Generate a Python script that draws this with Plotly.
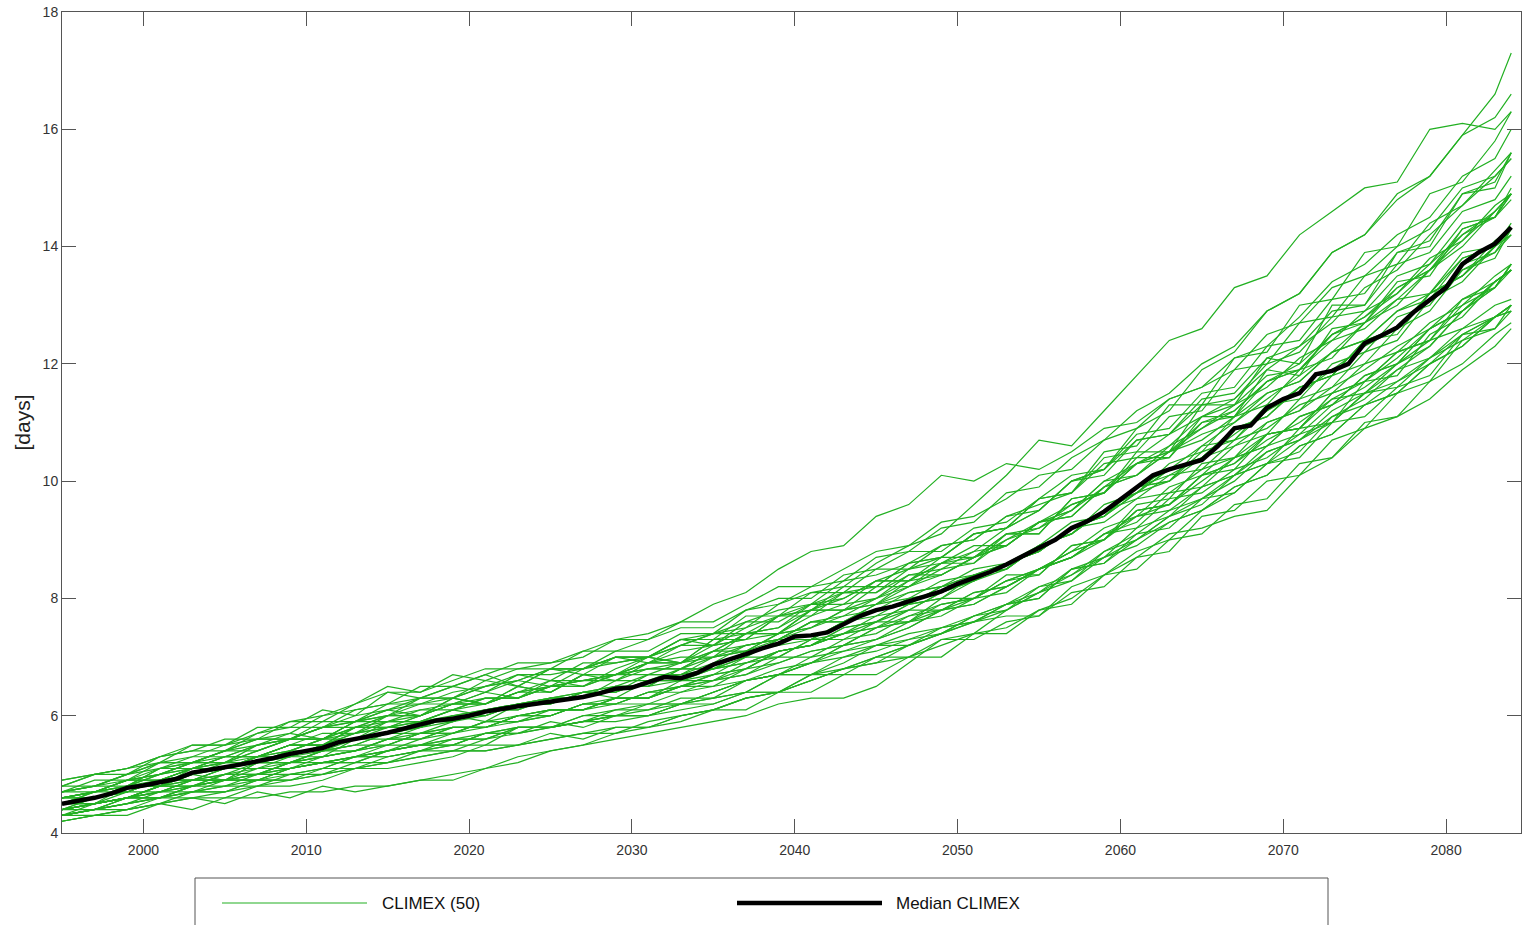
import plotly.graph_objects as go

# ---------------- data ----------------
median_years = list(range(1995, 2085))
median_climex = [
    4.50, 4.55, 4.60, 4.67, 4.77, 4.81, 4.87, 4.92, 5.03, 5.07,
    5.12, 5.17, 5.22, 5.28, 5.35, 5.40, 5.45, 5.55, 5.60, 5.65,
    5.71, 5.78, 5.85, 5.92, 5.95, 6.00, 6.07, 6.12, 6.16, 6.20,
    6.24, 6.27, 6.32, 6.38, 6.46, 6.48, 6.57, 6.66, 6.64, 6.73,
    6.87, 6.95, 7.05, 7.15, 7.23, 7.35, 7.37, 7.42, 7.57, 7.70,
    7.80, 7.86, 7.95, 8.03, 8.12, 8.25, 8.35, 8.45, 8.58, 8.72,
    8.86, 9.00, 9.20, 9.32, 9.48, 9.68, 9.90, 10.10, 10.20, 10.28,
    10.36, 10.60, 10.90, 10.95, 11.25, 11.40, 11.50, 11.82, 11.88, 12.00,
    12.35, 12.48, 12.62, 12.88, 13.10, 13.30, 13.70, 13.90, 14.05, 14.33,
]

member_years = list(range(1995, 2084, 2)) + [2084]

m01 = [4.6,4.7,4.9,4.9,5.1,5.3,5.3,5.4,5.6,5.8, 5.9,5.9,6.1,6.3,6.3,6.5,6.5,6.7,6.8,6.8, 7.1,7.4,7.5,7.8,8.1,8.1,8.5,8.6,8.8,9.2, 9.5,10.0,10.2,10.9,11.2,11.9,12.2,12.9,13.2,13.9, 14.2,14.8,15.2,15.9,16.6,17.3]
m02 = [4.7,4.8,4.8,5.1,5.2,5.2,5.5,5.6,5.6,5.9, 6.0,6.2,6.2,6.4,6.6,6.5,6.8,6.9,7.0,7.2, 7.4,7.5,7.9,8.1,8.2,8.6,8.9,9.1,9.6,10.1, 10.7,10.6,11.2,11.8,12.4,12.6,13.3,13.5,14.2,14.6, 15.0,15.1,16.0,16.1,16.0,16.3]
m03 = [4.9,5.0,5.1,5.3,5.4,5.6,5.6,5.9,6.0,6.2, 6.5,6.4,6.7,6.6,6.8,6.8,7.1,7.3,7.4,7.6, 7.9,8.1,8.5,8.8,8.9,9.4,9.6,10.1,10.0,10.3, 10.2,10.5,10.9,11.0,11.4,11.6,12.1,12.3,12.8,13.4, 13.7,14.2,14.5,15.2,15.5,16.0]
m04 = [4.3,4.4,4.4,4.5,4.6,4.5,4.7,4.6,4.8,4.7, 4.8,4.9,4.9,5.1,5.2,5.4,5.5,5.6,5.7,5.8, 5.9,6.0,6.2,6.3,6.3,6.5,6.9,7.3,7.4,7.8, 8.1,8.5,8.7,9.2,9.4,9.9,10.1,10.6,10.8,11.3, 11.6,12.0,12.4,12.6,13.0,13.1]
m05 = [4.4,4.5,4.6,4.6,4.8,4.9,4.9,5.1,5.2,5.2, 5.4,5.5,5.5,5.7,5.8,5.8,6.0,6.1,6.2,6.2, 6.4,6.6,6.7,6.9,7.0,7.2,7.3,7.5,7.6,7.7, 7.7,8.2,8.4,8.7,9.1,9.2,9.4,9.5,10.1,10.4, 10.9,11.1,11.4,11.9,12.3,12.6]
m06 = [4.2,4.3,4.3,4.5,4.4,4.6,4.6,4.7,4.7,4.8, 4.8,4.9,5.0,5.1,5.3,5.4,5.5,5.7,5.8,6.0, 6.1,6.3,6.4,6.6,6.8,7.0,7.2,7.4,7.7,7.9, 8.2,8.4,8.8,9.1,9.5,9.7,10.1,10.3,10.7,11.0, 11.5,11.7,12.1,12.5,12.8,12.9]
m07 = [4.8,5.0,5.1,5.2,5.5,5.5,5.7,5.9,5.9,6.2, 6.4,6.4,6.6,6.8,6.8,6.9, 7.1,7.1,7.3,7.5,7.5,7.8,8.0,8.0,8.4,8.5, 8.8,8.8,9.2,9.3,9.7, 9.8,10.4,10.5,11.1,11.2,11.9,12.0,12.7,12.8,13.5,13.7,14.4,14.7,15.3,15.6]
m08 = [4.7,4.8,5.0,5.2,5.3,5.5,5.6,5.7,6.0,6.1, 6.2,6.5,6.5,6.7,6.9,6.9, 7.0,7.3,7.3,7.6,7.6,7.9,8.2,8.2,8.5,8.8, 8.9,9.3,9.4,9.7,10.1, 10.2,10.7,10.9,11.4,11.6,11.9,12.5,12.7,13.3,13.5,14.0,14.3,15.0,15.2,15.5]
m09 = [4.8,5.0,5.0,5.3,5.4,5.4,5.7,5.8,5.8,6.1, 6.2,6.3,6.5,6.4,6.7,6.7, 6.8,7.0,6.9,7.2,7.4,7.4,7.7,7.9,7.9,8.3, 8.3,8.6,8.9,8.9,9.3, 9.5,9.9,10.1,10.5,10.8,11.0,11.5,11.7,12.2,12.4,12.9,13.1,13.8,14.0,14.3]
m10 = [4.6,4.7,4.9,5.0,5.2,5.3,5.5,5.6,5.8,5.9, 6.1,6.2,6.4,6.5,6.6,6.8, 6.8,7.1,7.1,7.4,7.4,7.8,7.9,8.2,8.3,8.7, 8.8,9.2,9.3,9.8,9.9, 10.4,10.7,11.2,11.5,12.0,12.3,12.9,13.2,13.9,14.2,14.9,15.2,15.9,16.2,16.6]
m11 = [4.7,4.8,4.9,5.2,5.2,5.4,5.6,5.6,5.9,5.9, 6.2,6.2,6.3,6.6,6.5,6.8, 6.8,7.0,7.0,7.3,7.3,7.7,7.7,8.1,8.1,8.5, 8.5,8.9,9.0,9.4,9.5, 10.0,10.1,10.7,10.8,11.3,11.4,12.0,12.2,12.8,12.9,13.5,13.7,14.4,14.5,14.9]
m12 = [4.9,5.0,5.1,5.3,5.5,5.5,5.8,5.8,6.1,6.0, 6.4,6.3,6.5,6.7,6.5,6.8, 6.7,7.0,7.0,7.3,7.2,7.6,7.6,7.9,8.0,8.3, 8.3,8.7,8.7,9.1,9.1, 9.7,9.8,10.4,10.4,11.1,11.1,11.9,11.8,12.6,12.7,13.4,13.5,14.3,14.5,14.9]
m13 = [4.6,4.7,4.8,5.0,5.2,5.2,5.4,5.6,5.6,5.9, 5.9,6.0,6.3,6.2,6.5,6.4, 6.7,6.7,7.0,6.9,7.3,7.3,7.7,7.8,8.2,8.2, 8.6,8.7,9.1,9.2,9.7, 9.8,10.5,10.6,11.3,11.3,12.1,12.2,13.0,13.1,13.9,14.0,14.9,15.1,15.8,16.3]
m14 = [4.7,4.9,4.9,5.1,5.3,5.3,5.5,5.7,5.6,5.9, 6.1,6.0,6.3,6.2,6.5,6.4, 6.7,6.6,6.9,7.0,7.0,7.4,7.4,7.8,7.8,8.2, 8.2,8.6,8.6,9.1,9.1, 9.7,9.8,10.5,10.5,11.3,11.3,12.1,12.0,13.0,13.0,13.9,14.0,14.9,15.0,15.6]
m15 = [4.5,4.7,4.9,5.0,5.2,5.4,5.4,5.6,5.8,5.9, 6.0,6.3,6.3,6.5,6.6,6.8, 6.8,7.0,7.0,7.3,7.4,7.6,7.8,7.9,8.3,8.4, 8.6,8.9,9.0,9.4,9.6, 9.8,10.3,10.4,10.8,11.1,11.3,11.8,11.9,12.4,12.6,13.1,13.2,13.9,14.0,14.3]
m16 = [4.4,4.6,4.8,4.8,5.1,5.1,5.3,5.5,5.5,5.8, 5.8,6.0,6.2,6.2,6.4,6.6, 6.5,6.8,7.0,6.9,7.3,7.4,7.5,7.9,8.1,8.2, 8.6,8.7,9.1,9.2,9.7, 10.1,10.2,10.8,10.9,11.5,11.6,12.3,12.4,13.1,13.2,13.9,14.1,14.9,15.1,15.6]
m17 = [4.7,4.7,4.8,5.1,5.1,5.2,5.4,5.6,5.6,5.8, 6.0,6.0,6.2,6.3,6.3,6.6, 6.6,6.7,6.9,6.9,7.2,7.3,7.4,7.8,7.8,8.0, 8.4,8.4,8.7,9.1,9.2, 9.5,10.0,10.1,10.6,10.9,11.2,11.7,11.9,12.5,12.8,13.2,13.8,14.1,14.7,14.9]
m18 = [4.8,4.8,5.0,5.2,5.2,5.4,5.6,5.6,5.8,6.0, 6.1,6.3,6.3,6.5,6.7,6.6, 6.9,6.9,7.0,7.2,7.2,7.5,7.7,7.7,8.1,8.1, 8.4,8.5,8.8,8.9,9.3, 9.4,9.9,10.3,10.4,11.0,11.1,11.7,11.9,12.5,12.7,13.3,13.6,14.2,14.5,14.8]
m19 = [4.6,4.7,4.9,4.9,5.1,5.3,5.3,5.5,5.5,5.7, 5.8,5.9,6.1,6.0,6.2,6.3, 6.3,6.6,6.6,6.8,7.0,7.1,7.4,7.5,7.8,7.9, 8.3,8.4,8.7,8.9,9.3, 9.5,10.0,10.3,10.6,11.1,11.4,11.9,12.3,12.7,13.3,13.6,14.2,14.7,15.2,15.5]
m20 = [4.5,4.6,4.7,4.9,5.1,5.1,5.3,5.4,5.6,5.7, 5.9,5.9,6.1,6.3,6.3,6.5, 6.6,6.7,6.9,6.9,7.1,7.4,7.4,7.7,7.9,8.0, 8.3,8.6,8.7,9.0,9.3, 9.4,9.9,10.1,10.5,10.7,11.1,11.5,11.7,12.2,12.4,12.9,13.2,13.8,14.0,14.3]
m21 = [4.4,4.6,4.8,4.8,5.0,5.2,5.2,5.3,5.5,5.6, 5.7,5.9,5.9,6.1,6.2,6.2, 6.4,6.5,6.5,6.8,6.8,7.0,7.3,7.3,7.6,7.8, 7.9,8.2,8.4,8.5,8.9, 9.1,9.6,9.8,10.3,10.5,11.1,11.3,11.9,12.1,12.7,13.0,13.6,14.0,14.6,14.9]
m22 = [4.6,4.7,4.8,5.0,5.1,5.2,5.3,5.5,5.5,5.7, 5.8,5.9,6.0,6.1,6.2,6.3, 6.3,6.5,6.5,6.6,6.8,6.9,7.1,7.2,7.4,7.5, 7.7,7.9,8.0,8.3,8.5, 8.7,9.1,9.3,9.8,9.9,10.4,10.6,11.1,11.3,11.8,12.0,12.6,12.9,13.4,13.6]
m23 = [4.4,4.5,4.6,4.8,4.9,4.9,5.2,5.2,5.4,5.5, 5.7,5.7,5.9,6.1,6.1,6.3, 6.4,6.4,6.7,6.7,7.0,7.1,7.3,7.6,7.7,8.0, 8.2,8.4,8.7,8.9,9.3, 9.6,9.8,10.3,10.5,11.0,11.2,11.7,12.0,12.5,12.8,13.3,13.6,14.3,14.5,15.0]
m24 = [4.5,4.6,4.7,4.9,5.0,5.1,5.2,5.4,5.4,5.6, 5.8,5.8,6.0,6.1,6.1,6.3, 6.4,6.4,6.6,6.7,6.8,7.1,7.2,7.3,7.6,7.7, 8.0,8.1,8.4,8.5,8.9, 9.1,9.5,9.8,10.2,10.4,10.8,11.2,11.5,11.9,12.3,12.6,13.2,13.5,14.0,14.3]
m25 = [4.5,4.6,4.7,4.9,4.9,5.1,5.1,5.3,5.4,5.4, 5.6,5.7,5.8,5.8,6.0,6.1, 6.1,6.3,6.3,6.5,6.7,6.8,7.1,7.2,7.5,7.6, 7.9,8.0,8.4,8.5,8.9, 9.3,9.4,9.9,10.0,10.6,10.7,11.3,11.4,12.0,12.2,12.8,13.0,13.7,13.9,14.2]
m26 = [4.6,4.7,4.9,5.0,5.1,5.3,5.3,5.5,5.7,5.7, 6.0,6.0,6.2,6.2,6.4,6.5, 6.6,6.6,6.8,6.9,7.0,7.2,7.3,7.6,7.6,7.9, 8.0,8.3,8.4,8.6,8.9, 9.1,9.5,9.7,10.1,10.2,10.7,10.9,11.3,11.5,12.0,12.2,12.7,13.0,13.5,13.7]
m27 = [4.4,4.5,4.6,4.8,4.8,5.0,5.0,5.2,5.3,5.4, 5.6,5.6,5.8,5.8,6.0,6.1, 6.1,6.3,6.3,6.5,6.6,6.7,7.0,7.0,7.3,7.4, 7.7,7.8,8.1,8.2,8.5, 8.8,9.0,9.5,9.6,10.1,10.3,10.8,10.9,11.5,11.7,12.1,12.6,12.9,13.4,13.6]
m28 = [4.5,4.7,4.7,4.9,5.1,5.1,5.3,5.5,5.5,5.8, 5.8,6.0,6.2,6.2,6.4,6.5, 6.5,6.7,6.8,6.8,7.1,7.2,7.3,7.6,7.6,7.9, 8.1,8.2,8.5,8.6,8.8, 9.2,9.4,9.9,10.1,10.4,10.9,11.1,11.6,11.8,12.4,12.6,13.2,13.5,14.1,14.3]
m29 = [4.6,4.6,4.8,4.8,5.0,5.1,5.3,5.3,5.5,5.6, 5.7,5.9,5.9,6.1,6.2,6.2, 6.4,6.4,6.6,6.6,6.8,6.9,7.1,7.2,7.4,7.5, 7.8,7.8,8.1,8.2,8.5, 8.8,9.2,9.4,9.9,10.1,10.6,10.8,11.4,11.6,12.2,12.4,13.1,13.4,14.0,14.2]
m30 = [4.3,4.5,4.7,4.7,4.9,5.0,5.0,5.2,5.3,5.4, 5.5,5.7,5.7,5.9,6.0,6.0, 6.2,6.2,6.4,6.5,6.6,6.9,7.0,7.3,7.4,7.6, 7.9,8.0,8.3,8.6,8.8, 9.2,9.4,9.8,10.2,10.4,10.9,11.1,11.6,11.8,12.4,12.6,13.1,13.6,13.9,14.3]
m31 = [4.7,4.8,5.0,5.1,5.2,5.4,5.5,5.6,5.8,5.8, 6.0,6.1,6.2,6.4,6.3,6.5, 6.6,6.7,6.7,6.9,7.1,7.1,7.4,7.5,7.7,7.8, 8.1,8.2,8.4,8.6,8.8, 9.2,9.3,9.7,9.8,10.2,10.4,10.8,10.9,11.4,11.5,11.9,12.1,12.6,12.8,13.0]
m32 = [4.5,4.5,4.8,4.9,4.9,5.1,5.3,5.3,5.5,5.6, 5.7,5.8,6.0,6.0,6.2,6.3, 6.3,6.5,6.7,6.7,6.9,7.2,7.3,7.5,7.8,7.9, 8.2,8.5,8.6,9.0,9.2, 9.6,9.8,10.3,10.5,10.9,11.3,11.6,12.1,12.4,12.9,13.2,13.7,14.2,14.6,14.9]
m33 = [4.5,4.5,4.6,4.8,4.9,5.0,5.2,5.2,5.4,5.5, 5.7,5.8,5.9,6.0,6.2,6.2, 6.4,6.5,6.5,6.8,6.8,7.0,7.3,7.3,7.6,7.8, 7.9,8.2,8.3,8.6,8.8, 9.2,9.4,9.8,10.0,10.4,10.6,11.0,11.2,11.6,11.9,12.3,12.6,13.1,13.4,13.6]
m34 = [4.6,4.6,4.7,4.9,5.1,5.2,5.2,5.4,5.6,5.6, 5.9,6.1,6.1,6.2,6.4,6.4, 6.7,6.7,6.9,7.1,7.2,7.3,7.7,7.8,8.0,8.3, 8.5,8.7,9.1,9.2,9.5, 10.0,10.2,10.7,10.8,11.4,11.5,12.1,12.3,12.9,13.0,13.7,13.9,14.6,14.8,15.2]
m35 = [4.3,4.4,4.6,4.6,4.8,4.9,4.9,5.1,5.2,5.3, 5.5,5.5,5.7,5.9,5.9,6.0, 6.2,6.3,6.3,6.6,6.6,6.8,7.1,7.2,7.5,7.6, 7.8,8.1,8.3,8.5,8.9, 9.1,9.5,9.9,10.0,10.5,10.7,11.2,11.6,11.8,12.4,12.5,13.2,13.5,14.0,14.4]
m36 = [4.4,4.5,4.6,4.7,4.8,4.9,5.0,5.1,5.2,5.3, 5.4,5.5,5.5,5.7,5.8,5.8, 5.9,6.0,6.0,6.2,6.3,6.4,6.7,6.7,7.0,7.1, 7.3,7.4,7.7,7.8,8.2, 8.3,8.8,9.0,9.4,9.6,10.1,10.3,10.9,11.0,11.7,11.8,12.5,12.8,13.4,13.6]
m37 = [4.5,4.6,4.7,4.9,4.9,5.1,5.2,5.2,5.4,5.5, 5.5,5.7,5.8,5.8,6.0,6.1, 6.1,6.3,6.3,6.5,6.5,6.8,6.9,7.1,7.2,7.5, 7.6,7.9,8.0,8.3,8.4, 8.9,9.0,9.6,9.7,10.3,10.4,11.0,11.2,11.8,12.0,12.6,12.9,13.6,13.8,14.3]
m38 = [4.3,4.4,4.5,4.6,4.8,4.8,4.9,5.0,5.1,5.3, 5.3,5.4,5.5,5.7,5.7,5.8, 5.9,6.1,6.1,6.2,6.4,6.6,6.7,6.9,7.2,7.3, 7.5,7.8,7.9,8.2,8.5, 8.7,9.1,9.4,9.6,10.1,10.3,10.7,11.0,11.4,11.7,12.2,12.4,13.0,13.3,13.7]
m39 = [4.3,4.4,4.5,4.6,4.7,4.7,4.9,4.9,5.0,5.1, 5.2,5.3,5.4,5.4,5.5,5.6, 5.7,5.7,5.9,6.0,6.1,6.3,6.4,6.7,6.8,6.9, 7.2,7.4,7.6,7.9,8.1, 8.3,8.7,8.9,9.3,9.5,9.9,10.1,10.6,10.8,11.3,11.5,12.0,12.3,12.8,13.0]
m40 = [4.4,4.5,4.6,4.7,4.9,4.9,5.0,5.2,5.2,5.3, 5.4,5.5,5.6,5.7,5.7,5.8, 5.9,5.9,6.0,6.1,6.2,6.4,6.4,6.6,6.8,6.9, 7.0,7.2,7.4,7.5,7.8, 8.0,8.4,8.8,9.0,9.5,9.8,10.3,10.5,11.1,11.4,11.9,12.3,12.9,13.3,13.7]
m41 = [4.2,4.3,4.4,4.6,4.6,4.7,4.9,4.9,5.0,5.2, 5.2,5.4,5.5,5.5,5.8,5.8, 5.9,6.0,6.0,6.2,6.3,6.4,6.7,6.7,6.9,7.2, 7.2,7.5,7.6,7.9,8.0, 8.5,8.6,9.1,9.2,9.7,9.8,10.3,10.4,11.0,11.1,11.6,11.8,12.5,12.6,12.9]
m42 = [4.5,4.5,4.6,4.8,4.8,5.0,5.1,5.1,5.3,5.4, 5.6,5.6,5.8,5.8,6.0,6.0, 6.2,6.2,6.2,6.4,6.5,6.6,6.8,6.9,7.1,7.2, 7.4,7.5,7.7,7.9,8.0, 8.5,8.6,9.0,9.3,9.5,9.9,10.1,10.6,10.8,11.3,11.5,12.0,12.3,12.8,13.0]
m43 = [4.3,4.4,4.6,4.6,4.7,4.8,5.0,5.0,5.1,5.3, 5.3,5.4,5.6,5.6,5.7,5.9, 5.8,6.0,6.0,6.2,6.2,6.4,6.4,6.7,6.7,7.0, 7.0,7.3,7.3,7.6,7.7, 8.1,8.2,8.7,8.8,9.4,9.5,10.0,10.1,10.7,10.9,11.5,11.7,12.4,12.6,13.0]
m44 = [4.4,4.4,4.6,4.7,4.8,4.9,5.0,5.1,5.2,5.2, 5.4,5.5,5.6,5.6,5.8,5.8, 6.0,6.0,6.1,6.3,6.3,6.6,6.7,7.0,7.1,7.3, 7.6,7.7,8.0,8.1,8.5, 8.7,9.1,9.2,9.7,9.8,10.2,10.4,10.8,11.0,11.5,11.6,12.1,12.4,12.8,12.9]
m45 = [4.2,4.3,4.4,4.5,4.6,4.6,4.8,4.8,4.9,5.1, 5.1,5.2,5.3,5.5,5.5,5.6, 5.7,5.8,5.8,6.0,6.1,6.3,6.4,6.6,6.8,7.0, 7.2,7.4,7.6,7.8,8.1, 8.4,8.7,9.0,9.4,9.7,10.0,10.5,10.7,11.2,11.5,12.0,12.3,12.9,13.3,13.6]
m46 = [4.3,4.4,4.5,4.7,4.7,4.9,4.9,5.1,5.2,5.3, 5.4,5.6,5.7,5.8,5.9,6.1, 6.1,6.2,6.4,6.4,6.6,6.7,6.9,7.1,7.2,7.5, 7.6,7.8,8.0,8.3,8.5, 8.7,9.0,9.4,9.5,9.9,10.1,10.5,10.7,11.1,11.3,11.7,12.0,12.5,12.8,13.0]
m47 = [4.4,4.5,4.6,4.8,5.0,4.9,5.2,5.3,5.3,5.6, 5.6,5.8,6.0,5.9,6.2,6.2, 6.4,6.3,6.6,6.6,6.7,7.0,7.0,7.3,7.3,7.6, 7.6,8.0,8.0,8.4,8.4, 8.9,9.0,9.5,9.6,10.1,10.2,10.8,10.9,11.5,11.7,12.2,12.4,13.1,13.3,13.7]
m48 = [4.3,4.4,4.5,4.6,4.7,4.8,4.8,4.9,5.1,5.1, 5.2,5.3,5.4,5.4,5.5,5.7, 5.6,5.8,5.8,5.9,6.1,6.1,6.4,6.4,6.7,6.7, 7.0,7.0,7.4,7.4,7.8, 7.9,8.4,8.5,9.0,9.1,9.6,9.7,10.3,10.4,11.0,11.1,11.7,12.0,12.5,12.7]
m49 = [4.3,4.3,4.4,4.5,4.7,4.7,4.8,5.0,5.0,5.1, 5.3,5.4,5.4,5.6,5.8,5.8, 5.9,6.0,6.2,6.2,6.4,6.6,6.7,6.9,7.2,7.3, 7.5,7.8,7.9,8.2,8.5, 8.8,9.0,9.5,9.6,10.0,10.4,10.6,11.1,11.3,11.8,12.0,12.6,12.9,13.4,13.6]
m50 = [4.4,4.5,4.6,4.7,4.9,4.9,5.1,5.2,5.3,5.4, 5.5,5.7,5.7,5.9,5.9,6.0, 6.2,6.2,6.4,6.5,6.7,6.8,7.1,7.2,7.4,7.7, 7.8,8.1,8.3,8.6,8.8, 9.2,9.5,9.9,10.2,10.6,11.0,11.4,11.8,12.2,12.7,13.1,13.6,14.1,14.6,14.9]

members = [m01, m02, m03, m04, m05, m06, m07, m08, m09, m10,
           m11, m12, m13, m14, m15, m16, m17, m18, m19, m20,
           m21, m22, m23, m24, m25, m26, m27, m28, m29, m30,
           m31, m32, m33, m34, m35, m36, m37, m38, m39, m40,
           m41, m42, m43, m44, m45, m46, m47, m48, m49, m50]

x_ticks = [2000, 2010, 2020, 2030, 2040, 2050, 2060, 2070, 2080]
y_ticks = [4, 6, 8, 10, 12, 14, 16, 18]
legend_labels = ["CLIMEX (50)", "Median CLIMEX"]

# ---------------- styles ----------------
GREEN = "rgb(34,176,34)"
AXIS = "#555555"
TXT = "#333333"
FONT = "Liberation Sans, Arial, Helvetica, sans-serif"

fig = go.Figure()
for vals in members:
    fig.add_trace(go.Scatter(
        x=member_years[:len(vals)], y=vals, mode="lines",
        line=dict(color=GREEN, width=1.2),
        name=legend_labels[0], showlegend=False,
    ))
fig.add_trace(go.Scatter(
    x=median_years, y=median_climex, mode="lines",
    line=dict(color="black", width=4.5),
    name=legend_labels[1], showlegend=False,
))

W, H = 1522, 925
L, R, T, B = 62, 1, 12, 92
pw, ph = W - L - R, H - T - B

def px_x(p):
    return (p - L) / pw

def px_y(p):
    return (H - B - p) / ph

fig.update_layout(
    width=W, height=H, autosize=False,
    margin=dict(l=L, r=R, t=T, b=B),
    plot_bgcolor="white", paper_bgcolor="white",
    font=dict(family=FONT, size=14, color=TXT),
    showlegend=False,
    xaxis=dict(
        range=[1995, 2084.6], tickvals=x_ticks, ticks="inside", ticklen=14,
        tickcolor=AXIS, tickwidth=1, showline=True, linecolor=AXIS, linewidth=1,
        mirror="ticks", showgrid=False, zeroline=False,
        tickfont=dict(size=14, color=TXT), ticklabelstandoff=4,
    ),
    yaxis=dict(
        range=[4, 18], tickvals=y_ticks, ticks="inside", ticklen=14,
        tickcolor=AXIS, tickwidth=1, showline=True, linecolor=AXIS, linewidth=1,
        mirror="ticks", showgrid=False, zeroline=False,
        tickfont=dict(size=14, color=TXT),
    ),
)

# y-axis title
fig.add_annotation(
    x=px_x(22), y=0.5, xref="paper", yref="paper", text="[days]",
    textangle=-90, showarrow=False, font=dict(size=21, color="#222222"),
    xanchor="center", yanchor="middle",
)

# legend box at the bottom (cut off by the figure edge, as in the reference)
fig.add_shape(type="rect", xref="paper", yref="paper",
              x0=px_x(195), x1=px_x(1328), y0=px_y(960), y1=px_y(878),
              line=dict(color=AXIS, width=1), fillcolor="white", layer="above")
fig.add_shape(type="line", xref="paper", yref="paper",
              x0=px_x(222), x1=px_x(367), y0=px_y(903), y1=px_y(903),
              line=dict(color=GREEN, width=1.2), layer="above")
fig.add_shape(type="line", xref="paper", yref="paper",
              x0=px_x(737), x1=px_x(882), y0=px_y(903), y1=px_y(903),
              line=dict(color="black", width=4.5), layer="above")
fig.add_annotation(x=px_x(380), y=px_y(904), xref="paper", yref="paper",
                   text=legend_labels[0], showarrow=False, xanchor="left",
                   yanchor="middle", font=dict(size=17, color="#111111"))
fig.add_annotation(x=px_x(894), y=px_y(904), xref="paper", yref="paper",
                   text=legend_labels[1], showarrow=False, xanchor="left",
                   yanchor="middle", font=dict(size=17, color="#111111"))

fig.write_html(
    "out.html",
    config={"responsive": False, "displayModeBar": False},
    post_script="document.body.style.margin='0';document.body.style.overflow='hidden';",
)
